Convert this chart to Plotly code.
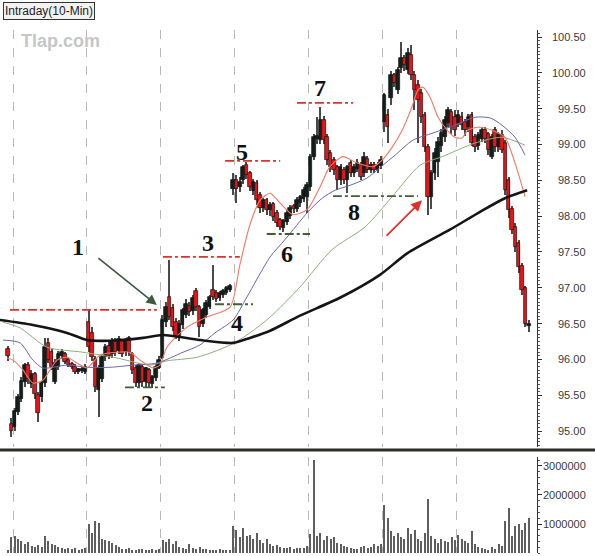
import plotly.graph_objects as go

# ---------------- data ----------------
opens = [96.15, 95.10, 95.05, 95.27, 95.45, 95.68, 95.92, 95.65, 95.80, 95.50,
         95.48, 95.67, 96.23, 96.10, 95.68, 95.90, 96.05, 96.07, 95.99, 95.94,
         95.90, 95.82, 95.84, 95.83, 96.52, 96.37, 96.00, 95.57, 95.72, 96.03,
         96.18, 96.07, 96.25, 96.12, 96.25, 96.10, 96.30, 96.08, 95.88, 95.67,
         95.90, 95.68, 95.85, 95.66, 95.74, 95.88, 96.02, 96.52, 96.87, 96.72,
         96.52, 96.32, 96.48, 96.62, 96.74, 96.68, 96.96, 96.73, 96.50, 96.62,
         96.73, 96.97, 96.93, 96.86, 96.90, 96.93, 96.97, 98.38, 98.50, 98.40,
         98.50, 98.72, 98.60, 98.35, 98.46, 98.30, 98.12, 98.22, 98.08, 98.17,
         98.05, 97.95, 97.83, 97.92, 98.00, 98.14, 98.10, 98.18, 98.24, 98.27,
         98.41, 98.83, 99.08, 99.06, 99.34, 99.10, 98.88, 98.78, 98.69, 98.50,
         98.64, 98.50, 98.74, 98.60, 98.66, 98.72, 98.60, 98.80, 98.64, 98.72,
         98.64, 98.70, 99.31, 99.41, 99.65, 99.97, 99.76, 100.07, 100.21, 100.04,
         100.25, 99.97, 99.83, 99.72, 99.41, 98.96, 98.27, 98.60, 98.75, 98.98,
         99.10, 99.30, 99.45, 99.38, 99.30, 99.38, 99.32, 99.24, 99.41, 99.10,
         98.98, 99.08, 99.20, 99.15, 98.83, 99.20, 98.96, 99.13, 99.02, 98.50,
         98.10, 97.85, 97.62, 97.30, 97.00, 96.47]
highs = [96.18, 95.18, 95.32, 95.52, 95.75, 95.95, 95.96, 95.85, 95.83, 95.55,
         95.70, 96.30, 96.30, 96.15, 96.00, 96.12, 96.14, 96.10, 96.02, 95.97,
         95.93, 95.88, 95.90, 95.93, 96.69, 96.45, 96.05, 95.92, 96.08, 96.22,
         96.25, 96.30, 96.30, 96.32, 96.28, 96.30, 96.33, 96.10, 95.92, 95.95,
         95.93, 95.90, 95.88, 95.78, 95.94, 96.05, 96.62, 96.80, 97.39, 96.78,
         96.58, 96.55, 96.72, 96.85, 96.80, 96.90, 97.00, 96.76, 96.72, 96.83,
         96.90, 97.32, 96.97, 96.95, 96.98, 97.02, 97.05, 98.60, 98.57, 98.55,
         98.72, 98.75, 98.63, 98.52, 98.50, 98.34, 98.25, 98.25, 98.20, 98.20,
         98.08, 97.98, 97.96, 98.08, 98.15, 98.17, 98.26, 98.30, 98.40, 98.48,
         98.87, 99.15, 99.38, 99.52, 99.40, 99.14, 98.92, 98.82, 98.72, 98.73,
         98.68, 98.72, 98.78, 98.73, 98.80, 98.76, 98.90, 98.84, 98.76, 98.75,
         98.76, 98.84, 99.72, 99.50, 100.02, 100.00, 100.08, 100.43, 100.25, 100.35,
         100.39, 100.02, 99.90, 99.78, 99.45, 99.00, 98.65, 98.95, 99.10, 99.22,
         99.40, 99.52, 99.50, 99.48, 99.48, 99.45, 99.36, 99.43, 99.46, 99.15,
         99.18, 99.24, 99.24, 99.18, 99.14, 99.24, 99.18, 99.20, 99.06, 98.55,
         98.14, 97.90, 97.66, 97.35, 97.02, 96.55]
lows = [95.98, 94.92, 95.00, 95.22, 95.40, 95.62, 95.65, 95.60, 95.45, 95.12,
        95.40, 95.62, 95.95, 95.85, 95.65, 95.85, 96.00, 95.93, 95.90, 95.86,
        95.80, 95.80, 95.81, 95.80, 96.10, 95.98, 95.55, 95.20, 95.68, 95.98,
        96.00, 96.02, 96.05, 96.08, 96.03, 96.05, 96.05, 95.80, 95.62, 95.62,
        95.62, 95.60, 95.60, 95.60, 95.70, 95.86, 96.00, 96.45, 96.55, 96.40,
        96.28, 96.26, 96.42, 96.58, 96.60, 96.62, 96.68, 96.31, 96.45, 96.58,
        96.70, 96.83, 96.80, 96.82, 96.86, 96.90, 96.94, 98.30, 98.18, 98.33,
        98.45, 98.52, 98.35, 98.30, 98.15, 98.05, 98.06, 98.02, 98.00, 97.93,
        97.85, 97.80, 97.78, 97.88, 97.96, 98.05, 98.06, 98.13, 98.20, 98.04,
        98.35, 98.78, 99.00, 99.00, 99.00, 98.72, 98.62, 98.58, 98.36, 98.44,
        98.45, 98.32, 98.55, 98.55, 98.62, 98.50, 98.55, 98.60, 98.60, 98.60,
        98.60, 98.66, 99.17, 99.02, 99.55, 99.80, 99.70, 100.00, 100.03, 99.98,
        99.90, 99.48, 99.02, 99.30, 98.90, 98.02, 98.10, 98.50, 98.55, 98.90,
        99.04, 99.25, 99.15, 99.12, 99.25, 99.20, 99.12, 99.18, 98.98, 98.90,
        98.92, 99.03, 99.02, 98.85, 98.80, 98.90, 98.90, 98.88, 98.30, 97.97,
        97.75, 97.50, 97.20, 96.90, 96.45, 96.38]
closes = [96.05, 95.00, 95.28, 95.48, 95.70, 95.92, 95.72, 95.80, 95.52, 95.25,
          95.67, 96.17, 95.99, 95.90, 95.95, 96.08, 96.10, 95.97, 95.92, 95.89,
          95.83, 95.86, 95.87, 95.90, 96.17, 96.03, 95.62, 95.88, 96.03, 96.17,
          96.05, 96.25, 96.10, 96.28, 96.08, 96.25, 96.10, 95.85, 95.67, 95.92,
          95.68, 95.88, 95.67, 95.75, 95.90, 95.99, 96.55, 96.73, 96.59, 96.45,
          96.32, 96.50, 96.69, 96.78, 96.66, 96.86, 96.73, 96.45, 96.69, 96.79,
          96.87, 96.87, 96.85, 96.92, 96.95, 96.99, 97.02, 98.50, 98.38, 98.48,
          98.69, 98.57, 98.40, 98.48, 98.22, 98.12, 98.22, 98.09, 98.15, 97.99,
          97.90, 97.85, 97.93, 98.04, 98.12, 98.10, 98.22, 98.27, 98.36, 98.43,
          98.83, 99.10, 99.12, 99.34, 99.06, 98.78, 98.69, 98.64, 98.50, 98.69,
          98.50, 98.69, 98.60, 98.69, 98.74, 98.55, 98.83, 98.64, 98.72, 98.64,
          98.72, 98.78, 99.69, 99.24, 99.97, 99.86, 100.04, 100.21, 100.11, 100.28,
          99.97, 99.76, 99.62, 99.38, 98.96, 98.27, 98.60, 98.88, 99.04, 99.16,
          99.34, 99.48, 99.24, 99.20, 99.41, 99.27, 99.20, 99.38, 99.02, 98.96,
          99.13, 99.20, 99.08, 98.92, 99.10, 98.96, 99.13, 98.92, 98.36, 98.09,
          97.80, 97.57, 97.29, 96.97, 96.50, 96.50]
volumes = [100000, 550000, 580000, 480000, 420000, 300000, 380000, 250000, 220000, 280000,
           200000, 580000, 400000, 320000, 280000, 220000, 180000, 150000, 170000, 140000,
           160000, 120000, 150000, 180000, 1000000, 700000, 1100000, 1050000, 500000, 450000,
           420000, 350000, 280000, 220000, 150000, 130000, 160000, 120000, 100000, 150000,
           130000, 110000, 120000, 140000, 100000, 150000, 450000, 380000, 480000, 300000,
           420000, 200000, 180000, 150000, 300000, 160000, 140000, 200000, 130000, 150000,
           120000, 100000, 110000, 130000, 90000, 110000, 100000, 920000, 800000, 550000,
           870000, 600000, 630000, 500000, 700000, 450000, 350000, 500000, 300000, 250000,
           280000, 200000, 180000, 160000, 200000, 150000, 170000, 180000, 160000, 250000,
           650000, 3200000, 580000, 700000, 450000, 600000, 500000, 550000, 350000, 300000,
           250000, 200000, 180000, 150000, 130000, 200000, 250000, 180000, 220000, 300000,
           250000, 320000, 1670000, 1200000, 750000, 600000, 700000, 550000, 480000, 870000,
           650000, 800000, 500000, 400000, 700000, 1850000, 600000, 480000, 350000, 500000,
           420000, 380000, 550000, 450000, 630000, 500000, 400000, 350000, 750000, 300000,
           200000, 180000, 150000, 120000, 200000, 150000, 300000, 250000, 1100000, 1550000,
           600000, 920000, 1000000, 800000, 1050000, 1200000]
bars = list(range(len(closes)))

# moving averages (bar position, price)
ma_fast_x = [-0.3, 1.5, 4.5, 7.4, 10.4, 12.5, 14.6, 17.6, 20.5, 23.5, 25.3, 27.4, 32.4, 36.3,
             39.3, 43.2, 45.2, 47.3, 53.3, 59.2, 66.1, 69.0, 72.0, 75.0, 78.0, 81.0, 84.8,
             89.0, 92.9, 95.8, 99.7, 103.9, 108.6, 111.3, 114.3, 117.3, 120.2, 122.0, 123.5,
             125.6, 128.0, 130.7, 133.0, 135.1, 136.9, 139.9, 144.0, 147.9, 150.9, 153.9]
ma_fast_y = [96.02, 95.99, 95.85, 95.67, 95.71, 95.85, 95.99, 96.03, 95.95, 95.88, 95.96,
             96.06, 96.10, 96.10, 95.99, 95.88, 95.92, 96.17, 96.45, 96.59, 96.73, 97.32,
             97.88, 98.22, 98.32, 98.18, 98.02, 98.09, 98.41, 98.69, 98.83, 98.74, 98.69,
             98.78, 98.96, 99.20, 99.52, 99.76, 99.80, 99.66, 99.38, 99.20, 99.10, 99.09,
             99.20, 99.24, 99.20, 99.10, 98.74, 98.27]
ma_mid_x = [-1.5, 3.6, 7.4, 10.4, 17.6, 23.5, 30.4, 37.2, 44.4, 52.1, 57.1, 61.6, 67.0, 71.1,
            78.0, 82.4, 89.3, 93.5, 97.3, 101.8, 106.8, 111.3, 115.2, 120.5, 126.5, 133.0,
            139.0, 143.5, 147.0, 150.9, 153.9]
ma_mid_y = [96.27, 96.23, 95.99, 95.88, 95.92, 95.89, 95.89, 95.92, 95.95, 96.10, 96.20,
            96.37, 96.55, 96.87, 97.43, 97.67, 98.06, 98.25, 98.36, 98.43, 98.53, 98.70,
            98.85, 99.06, 99.16, 99.27, 99.38, 99.37, 99.27, 99.10, 98.85]
ma_slow_x = [-1.5, 3.6, 11.6, 22.3, 32.4, 42.3, 47.3, 56.3, 66.1, 72.0, 78.0, 86.9, 96.4,
             106.3, 114.3, 122.6, 129.2, 139.0, 147.0, 153.9]
ma_slow_y = [96.52, 96.44, 96.17, 96.10, 96.02, 95.92, 95.98, 96.03, 96.20, 96.37, 96.59,
             97.01, 97.53, 97.85, 98.27, 98.71, 98.83, 99.02, 99.10, 98.99]
ma_long_x = [-2.4, 7.4, 17.6, 23.5, 30.4, 40.2, 46.1, 57.1, 67.0, 72.0, 78.0, 86.9, 98.8,
             110.7, 118.8, 131.5, 140.5, 147.9, 154.5]
ma_long_y = [96.55, 96.48, 96.37, 96.27, 96.26, 96.30, 96.34, 96.27, 96.23, 96.30, 96.40,
             96.61, 96.86, 97.18, 97.48, 97.81, 98.06, 98.25, 98.36]

price_ticks = [100.5, 100.0, 99.5, 99.0, 98.5, 98.0, 97.5, 97.0, 96.5, 96.0, 95.5, 95.0]
price_tick_labels = ["100.50", "100.00", "99.50", "99.00", "98.50", "98.00",
                     "97.50", "97.00", "96.50", "96.00", "95.50", "95.00"]
vol_ticks = [3000000, 2000000, 1000000]
vol_tick_labels = ["3000000", "2000000", "1000000"]
session_breaks = [1.5, 23.5, 45.5, 67.5, 89.5, 111.5, 133.5]

# key levels: (label, price, from bar, to bar, kind)
levels = [("1", 96.69, 0.6, 44.3, "res"), ("2", 95.61, 34.8, 46.7, "sup"),
          ("3", 97.43, 46.1, 69.0, "res"), ("4", 96.77, 61.6, 72.9, "sup"),
          ("5", 98.77, 64.6, 81.0, "res"), ("6", 97.75, 77.0, 89.9, "sup"),
          ("7", 99.58, 86.0, 102.7, "res"), ("8", 98.28, 96.7, 122.0, "sup")]
label_pos = {"1": (20.8, 97.57), "2": (41.4, 95.39), "3": (59.5, 97.62), "4": (68.2, 96.51),
             "5": (69.6, 98.89), "6": (83.0, 97.47), "7": (92.9, 99.79), "8": (103.0, 98.06)}

# ---------------- figure ----------------
W, H = 595, 556
RED = "#e3161b"
fig = go.Figure()

up = [i for i in bars if closes[i] >= opens[i]]
dn = [i for i in bars if closes[i] < opens[i]]

# wicks
fig.add_trace(go.Bar(x=bars, base=lows, y=[highs[i] - lows[i] for i in bars], width=0.34,
                     marker=dict(color="#4a4a4a", line=dict(width=0)),
                     xaxis="x", yaxis="y", showlegend=False, hoverinfo="skip"))
# bodies
for idx, col in ((up, "#132019"), (dn, RED)):
    fig.add_trace(go.Bar(
        x=idx,
        base=[min(opens[i], closes[i]) for i in idx],
        y=[max(abs(closes[i] - opens[i]), 0.02) for i in idx],
        width=1.05,
        marker=dict(color=col, line=dict(color="#111111", width=0.7)),
        xaxis="x", yaxis="y", showlegend=False, hoverinfo="skip"))

# moving averages
for xs, ys, col, w in ((ma_slow_x, ma_slow_y, "#8fae78", 1.0),
                       (ma_mid_x, ma_mid_y, "#6a66b0", 1.0),
                       (ma_fast_x, ma_fast_y, "#f07a62", 1.1),
                       (ma_long_x, ma_long_y, "#151515", 2.6)):
    fig.add_trace(go.Scatter(x=xs, y=ys, mode="lines",
                             line=dict(color=col, width=w, shape="spline", smoothing=0.7),
                             xaxis="x", yaxis="y", showlegend=False, hoverinfo="skip"))

# volume
fig.add_trace(go.Bar(x=bars, y=volumes, width=0.6,
                     marker=dict(color="#5e5e5e", line=dict(width=0)),
                     xaxis="x2", yaxis="y2", showlegend=False, hoverinfo="skip"))

# level lines and numbers
shapes = []
annotations = []
for lab, price, x0, x1, kind in levels:
    col = "#e0302a" if kind == "res" else "#3f5f35"
    shapes.append(dict(type="line", xref="x", yref="y", x0=x0, x1=x1, y0=price, y1=price,
                       line=dict(color=col, width=1.8, dash="dashdot")))
    lx, ly = label_pos[lab]
    annotations.append(dict(x=lx, y=ly, xref="x", yref="y", text="<b>%s</b>" % lab,
                            showarrow=False,
                            font=dict(family="Liberation Serif", size=24, color="#111111")))

# separator between panes
shapes.append(dict(type="line", xref="paper", yref="paper", x0=0, x1=1,
                   y0=1 - 450 / H, y1=1 - 450 / H, line=dict(color="#2e2e28", width=3)))

# arrows
annotations.append(dict(x=44.3, y=96.76, xref="x", yref="y", ax=-60, ay=-48,
                        text="", showarrow=True, arrowhead=2, arrowsize=1.3, arrowwidth=1.6,
                        arrowcolor="#3d5a3d"))
annotations.append(dict(x=123.2, y=98.22, xref="x", yref="y", ax=-37, ay=37,
                        text="", showarrow=True, arrowhead=2, arrowsize=1.2, arrowwidth=1.8,
                        arrowcolor="#e0302a"))

# axis labels (right aligned)
for v, t in zip(price_ticks, price_tick_labels):
    annotations.append(dict(x=588 / W, y=v, xref="paper", yref="y", text=t, showarrow=False,
                            xanchor="right", font=dict(family="Liberation Sans", size=11,
                                                        color="#3a3a3a")))
for v, t in zip(vol_ticks, vol_tick_labels):
    annotations.append(dict(x=588 / W, y=v, xref="paper", yref="y2", text=t, showarrow=False,
                            xanchor="right", font=dict(family="Liberation Sans", size=11,
                                                        color="#3a3a3a")))

# title box and watermark
annotations.append(dict(x=3 / W, y=1 - 2 / H, xref="paper", yref="paper", xanchor="left",
                        yanchor="top", text="Intraday(10-Min)", showarrow=False,
                        bordercolor="#333333", borderwidth=1, borderpad=1, bgcolor="#f2f2f2",
                        font=dict(family="Liberation Sans", size=12, color="#222222")))
annotations.append(dict(x=19 / W, y=1 - 41 / H, xref="paper", yref="paper", xanchor="left",
                        yanchor="middle", text="<b>Tlap.com</b>", showarrow=False,
                        font=dict(family="Liberation Sans", size=18, color="#c6c6c6")))

xr = [-2.38, 157.44]
xdom = [0, 537 / W]
common_x = dict(range=xr, domain=xdom, showticklabels=False, tickvals=session_breaks,
                showgrid=True, gridcolor="#b8b8b8", gridwidth=1, griddash="dash",
                zeroline=False, showline=False, ticks="")
fig.update_layout(
    width=W, height=H, margin=dict(l=0, r=0, t=0, b=0),
    paper_bgcolor="white", plot_bgcolor="white",
    barmode="overlay", bargap=0,
    xaxis=dict(anchor="y", **common_x),
    xaxis2=dict(anchor="y2", matches="x", **common_x),
    yaxis=dict(domain=[1 - 447 / H, 1 - 30 / H], range=[94.777, 100.598], side="right",
               anchor="x", showline=True, linecolor="#333333", linewidth=1,
               ticks="outside", ticklen=4, tickcolor="#333333", tickvals=price_ticks,
               showticklabels=False, showgrid=False, zeroline=False,
               minor=dict(dtick=0.05, ticks="outside", ticklen=2, tickcolor="#555555")),
    yaxis2=dict(domain=[1 - 553 / H, 1 - 457 / H], range=[0, 3.31e6], side="right",
                anchor="x2", showline=True, linecolor="#333333", linewidth=1,
                ticks="outside", ticklen=4, tickcolor="#333333", tickvals=vol_ticks,
                showticklabels=False, showgrid=False, zeroline=False,
                minor=dict(dtick=200000, ticks="outside", ticklen=2, tickcolor="#555555")),
    shapes=shapes, annotations=annotations,
)

fig.write_html("out.html")
